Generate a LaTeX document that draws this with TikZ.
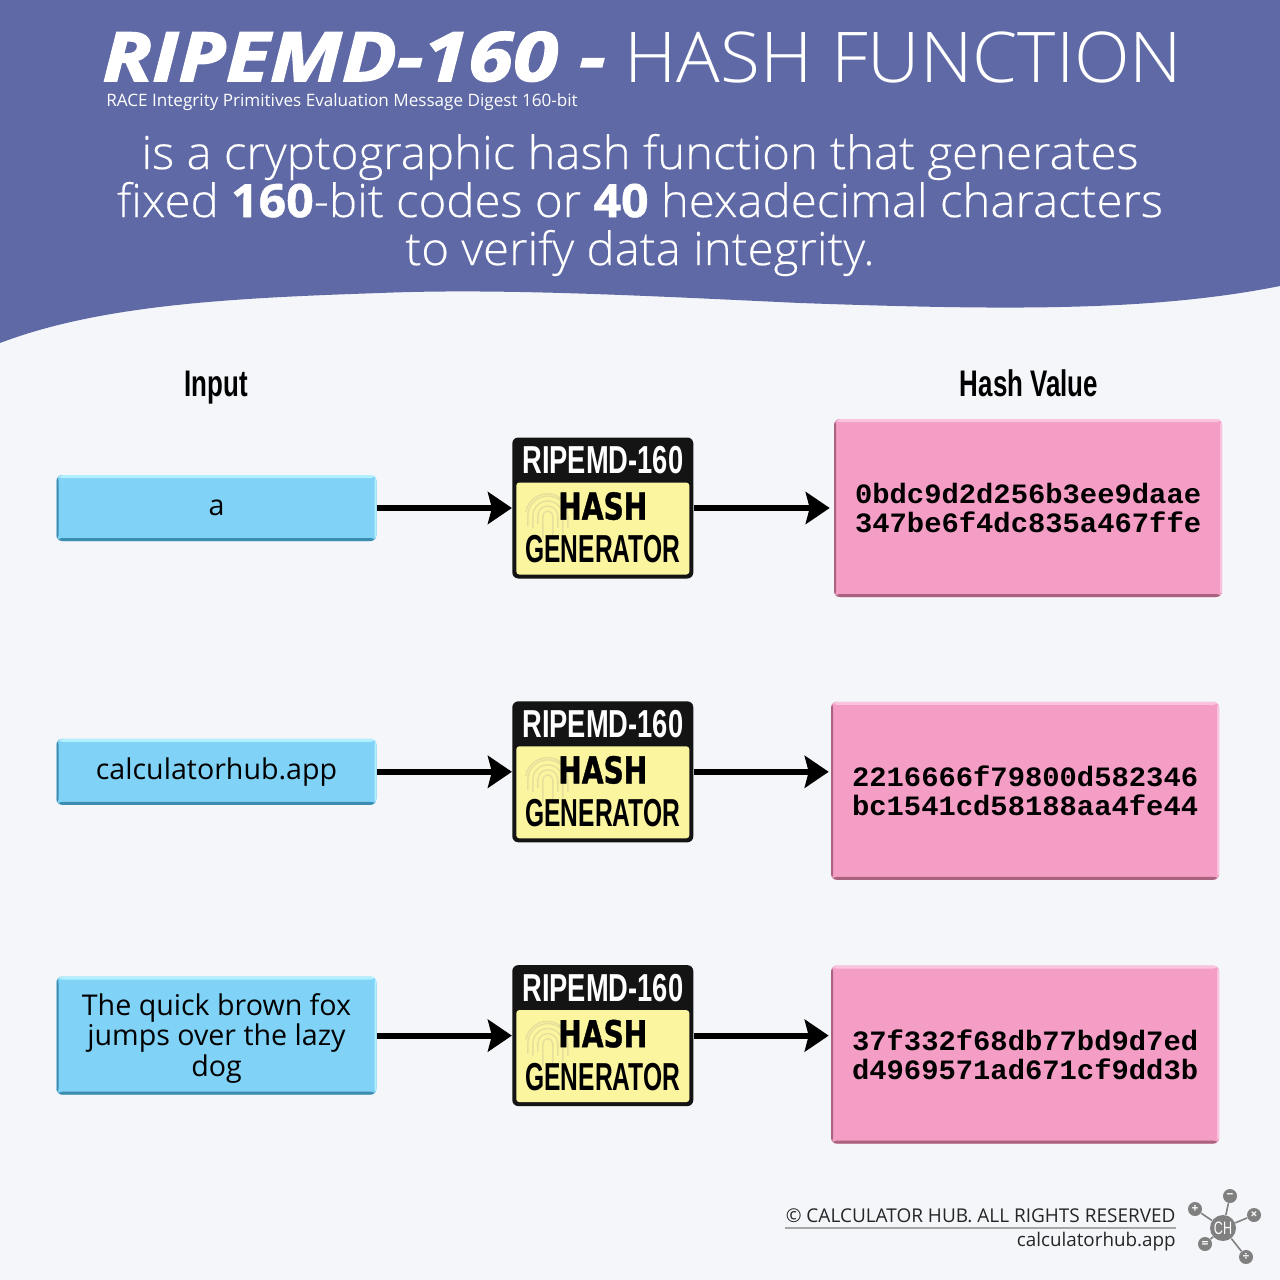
\documentclass[tikz,border=0pt]{standalone}
\usepackage{fontspec}
\usepackage{xcolor}
\usetikzlibrary{positioning, arrows.meta}
\setmainfont{Open Sans}
\newfontfamily\thinfont[FakeStretch=1.04]{Open Sans Light}
\newfontfamily\bodyfont[FakeStretch=1.03, FakeBold=0.25]{Open Sans Light}
\newfontfamily\numfont[FakeStretch=1.05, FakeBold=1]{Open Sans}
\newfontfamily\heavyfont[FakeBold=2.2, FakeStretch=1.2]{Open Sans}
\newfontfamily\narrowfont[FakeStretch=0.7]{Liberation Sans}
\newfontfamily\narrowerfont[FakeStretch=0.63]{Liberation Sans}
\newfontfamily\hashfont[FakeStretch=0.76, FakeBold=1]{DejaVu Sans}
\newfontfamily\codefont[FakeStretch=1.03]{Liberation Mono}

\definecolor{bgpage}{HTML}{F4F6FA}
\definecolor{bandblue}{HTML}{5F69A5}
\definecolor{inputblue}{HTML}{80D2F7}
\definecolor{inputlight}{HTML}{B0F0FF}
\definecolor{inputdark}{HTML}{3D8DB0}
\definecolor{hashpink}{HTML}{F49EC6}
\definecolor{hashlight}{HTML}{FBC3DE}
\definecolor{hashdark}{HTML}{A9637F}
\definecolor{genyellow}{HTML}{FBF5A0}
\definecolor{printline}{HTML}{E6DF9C}
\definecolor{logogray}{HTML}{808080}

\newcommand{\fingerprint}[1]{%
    \draw[printstroke, shift={(#1.center)}]
        (-30pt,-4pt) arc[start angle=180, end angle=0, radius=2.5pt]
        (-32.5pt,-8pt) -- (-32.5pt,-4pt) arc[start angle=180, end angle=0, radius=5pt] -- (-22.5pt,-10pt)
        (-35pt,-10pt) -- (-35pt,-4pt) arc[start angle=180, end angle=0, radius=7.5pt] -- (-20pt,-13pt)
        (-37.5pt,-9pt) -- (-37.5pt,-4pt) arc[start angle=180, end angle=0, radius=10pt] -- (-17.5pt,-10pt)
        (-38.5pt,-2pt) arc[start angle=170, end angle=20, radius=11pt]
        (-30pt,-4pt) -- (-30pt,-15pt)
        (-25pt,-4pt) -- (-25pt,-15pt);
}

\begin{document}
\begin{tikzpicture}[
        x=0.5pt, y=-0.5pt,
        every node/.style={inner sep=0pt},
        bevel/.style n args={3}{fill=#1, rounded corners=3pt, path picture={
            \fill[#2] (path picture bounding box.north west) rectangle ([yshift=-1.5pt]path picture bounding box.north east);
            \fill[#2] (path picture bounding box.north east) rectangle ([xshift=-1pt]path picture bounding box.south east);
            \fill[#3] (path picture bounding box.south west) rectangle ([yshift=1.5pt]path picture bounding box.south east);
            \fill[#3] (path picture bounding box.north west) rectangle ([xshift=1pt]path picture bounding box.south west);
        }},
        inputbox/.style={bevel={inputblue}{inputlight}{inputdark}, minimum width=160pt, minimum height=33pt, align=center,
            font=\fontsize{14.3}{15.2}\selectfont, text=black},
        valuebox/.style={bevel={hashpink}{hashlight}{hashdark}, minimum width=194pt, minimum height=89pt, align=center,
            font=\codefont\bfseries\fontsize{14}{14.5}\selectfont, text=black},
        genbox/.style={fill=black!92, rounded corners=3pt, minimum width=90.5pt, minimum height=70.5pt},
        genbody/.style={fill=genyellow, rounded corners=1.5pt, minimum width=86.5pt, minimum height=46pt},
        gentop/.style={anchor=center, font=\narrowfont\bfseries\fontsize{19.5}{20}\selectfont, text=white},
        genmid/.style={anchor=center, font=\hashfont\bfseries\fontsize{18.5}{19}\selectfont, text=black},
        genlow/.style={anchor=center, font=\narrowerfont\bfseries\fontsize{19.5}{20}\selectfont, text=black},
        heading/.style={anchor=base, font=\narrowfont\bfseries\fontsize{18.5}{19}\selectfont, text=black},
        printstroke/.style={draw=printline, line width=0.7pt},
        flow/.style={line width=3pt, -{Stealth[length=12pt, width=16pt, inset=2pt]}},
        logodot/.style={circle, fill=logogray, minimum size=7pt, text=white, font=\fontsize{6}{6}\selectfont\bfseries},
        logolink/.style={draw=logogray, line width=0.8pt}
    ]

    \fill[bgpage] (0,0) rectangle (1280,1280);
    \fill[bandblue] (0,0) -- (1280,0) -- (1280,286)
        .. controls (1150,312) and (1000,310) .. (800,303)
        .. controls (650,296) and (500,288) .. (380,293)
        .. controls (230,298) and (100,305) .. (0,343) -- cycle;

    % header
    \node[anchor=base west, text=white, font=\heavyfont\bfseries\itshape\fontsize{34}{34}\selectfont] (title) at (102,81) {RIPEMD-160 -};
    \node[anchor=base west, text=white, font=\thinfont\fontsize{35}{35}\selectfont] (titlethin) at (624,82) {HASH FUNCTION};
    \node[anchor=base west, text=white, font=\fontsize{8.55}{8.55}\selectfont] (subtitle) at (106,106) {RACE Integrity Primitives Evaluation Message Digest 160-bit};
    \node[align=center, text=white, font=\bodyfont\fontsize{23}{24}\selectfont] (summary) at (640,205)
        {is a cryptographic hash function that generates\\
         fixed {\numfont\bfseries 160}-bit codes or {\numfont\bfseries 40} hexadecimal characters\\
         to verify data integrity.};

    \node[heading] (inputlabel) at (216,396) {Input};
    \node[heading] (valuelabel) at (1029,396) {Hash Value};

    % inputs
    \node[inputbox] (ina) at (216.5,508) {a};
    \node[inputbox, below=98.5pt of ina] (inb) {calculatorhub.app};
    \node[inputbox, minimum height=59pt, below=85.5pt of inb] (inc) {\rule{0pt}{13.5pt}The quick brown fox\\jumps over the lazy\\dog};

    % generators
    \node[genbox, right=67.5pt of ina] (gena) {};
    \node[genbox, right=67.5pt of inb] (genb) {};
    \node[genbox, right=67.5pt of inc] (genc) {};

    \node[genbody, above=2pt of gena.south, anchor=south] (bodya) {};
    \node[genbody, above=2pt of genb.south, anchor=south] (bodyb) {};
    \node[genbody, above=2pt of genc.south, anchor=south] (bodyc) {};

    \fingerprint{gena}
    \fingerprint{genb}
    \fingerprint{genc}

    \node[below=11.5pt of gena.north, gentop] (topa) {RIPEMD-160};
    \node[below=34.5pt of gena.north, genmid] (mida) {HASH};
    \node[below=56pt of gena.north, genlow] (lowa) {GENERATOR};
    \node[below=11.5pt of genb.north, gentop] (topb) {RIPEMD-160};
    \node[below=34.5pt of genb.north, genmid] (midb) {HASH};
    \node[below=56pt of genb.north, genlow] (lowb) {GENERATOR};
    \node[below=11.5pt of genc.north, gentop] (topc) {RIPEMD-160};
    \node[below=34.5pt of genc.north, genmid] (midc) {HASH};
    \node[below=56pt of genc.north, genlow] (lowc) {GENERATOR};

    % hash values
    \node[valuebox, right=70pt of gena] (vala) {0bdc9d2d256b3ee9daae\\347be6f4dc835a467ffe};
    \node[valuebox, right=68.5pt of genb, yshift=-9.5pt] (valb) {2216666f79800d582346\\bc1541cd58188aa4fe44};
    \node[valuebox, right=68.5pt of genc, yshift=-9.5pt] (valc) {37f332f68db77bd9d7ed\\d4969571ad671cf9dd3b};

    \draw[flow] (ina.east) -- (gena.west);
    \draw[flow] (inb.east) -- (genb.west);
    \draw[flow] (inc.east) -- (genc.west);
    \draw[flow, shorten >=2pt] (gena.east) -- (vala.west);
    \draw[flow, shorten >=1pt] (genb.east) -- (genb.east -| valb.west);
    \draw[flow, shorten >=1pt] (genc.east) -- (genc.east -| valc.west);

    % footer
    \node[anchor=base east, text=black!85, font=\fontsize{9.5}{9.5}\selectfont] (rights) at (1176,1222) {© CALCULATOR HUB. ALL RIGHTS RESERVED};
    \node[anchor=base east, text=black!85, font=\fontsize{9.4}{9.4}\selectfont] (site) at (1176,1246) {calculatorhub.app};
    \draw[draw=black!35, line width=0.6pt] ([yshift=-3pt]rights.base west) -- ([yshift=-3pt]rights.base east);

    \node[logodot, minimum size=13pt, font=\narrowfont\fontsize{9}{9}\selectfont] (ch) at (1223,1228) {CH};
    \node[logodot] (plus) at (1195,1209) {+};
    \node[logodot] (minus) at (1230,1196) {−};
    \node[logodot] (times) at (1254,1215) {×};
    \node[logodot] (equal) at (1205,1244) {=};
    \node[logodot] (divide) at (1246,1257) {÷};
    \draw[logolink] (ch) -- (plus);
    \draw[logolink] (ch) -- (minus);
    \draw[logolink] (ch) -- (times);
    \draw[logolink] (ch) -- (equal);
    \draw[logolink] (ch) -- (divide);

    \end{tikzpicture}
\end{document}
